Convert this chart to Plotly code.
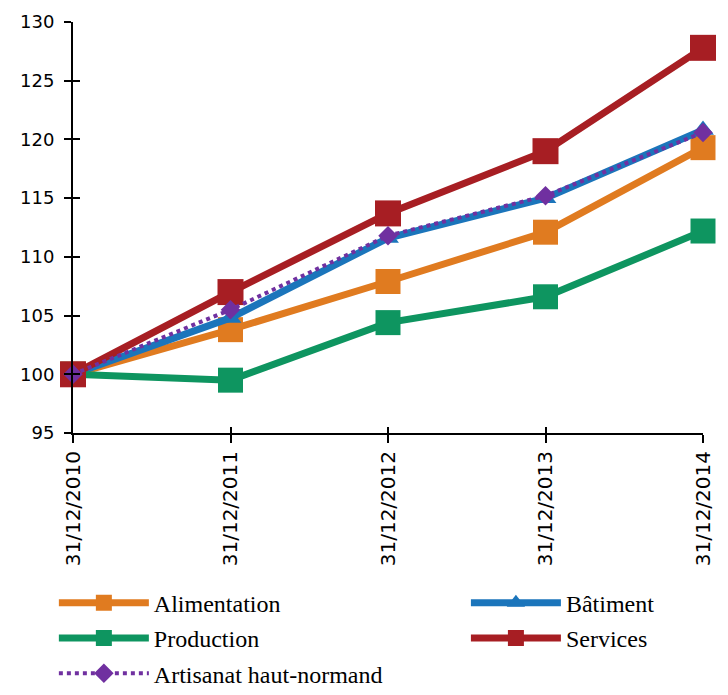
import plotly.graph_objects as go

dates = ["31/12/2010", "31/12/2011", "31/12/2012", "31/12/2013", "31/12/2014"]
alimentation = [100, 103.8, 107.9, 112.1, 119.3]
batiment = [100, 104.8, 111.6, 115.0, 120.8]
production = [100, 99.5, 104.4, 106.6, 112.2]
services = [100, 107.0, 113.7, 119.0, 127.8]
artisanat = [100, 105.5, 111.8, 115.2, 120.6]
y_ticks = [95, 100, 105, 110, 115, 120, 125, 130]

xs = list(range(len(dates)))

fig = go.Figure()

# empty helper trace so the inner-tick overlay axes get drawn (ticks cross the axis lines)
fig.add_trace(go.Scatter(x=[], y=[], xaxis="x2", yaxis="y2", showlegend=False, hoverinfo="skip"))

def add(name, vals, color, symbol, size, legend, dash="solid", width=7):
    fig.add_trace(go.Scatter(
        x=xs, y=vals, name=name, mode="lines+markers",
        line=dict(color=color, width=width, dash=dash),
        marker=dict(symbol=symbol, size=size, color=color, line=dict(width=0)),
        cliponaxis=False, legend=legend, legendgroup=name,
    ))

add("Alimentation", alimentation, "#E07B20", "square", 25, "legend")
add("Bâtiment", batiment, "#1B75BB", "triangle-up", 19, "legend2")
add("Production", production, "#0E9560", "square", 25, "legend")
add("Services", services, "#A71E23", "square", 26, "legend2")
add("Artisanat haut-normand", artisanat, "#7030A0", "diamond", 15, "legend", dash="dot", width=4)

serif = "Liberation Serif, Times New Roman, serif"
legend_common = dict(
    orientation="v", font=dict(family=serif, size=24, color="#000"),
    bgcolor="rgba(0,0,0,0)", tracegroupgap=1, itemwidth=90,
    xref="container", yref="container",
    yanchor="top", y=0.176, xanchor="left",
)

fig.update_layout(
    width=728, height=695,
    margin=dict(l=65, r=33, t=14, b=270, autoexpand=False),
    plot_bgcolor="white", paper_bgcolor="white",
    showlegend=True,
    legend=dict(x=0.063, **legend_common),
    legend2=dict(x=0.629, **legend_common),
    xaxis=dict(
        range=[0, 4], tickmode="array", tickvals=xs, ticktext=dates,
        tickangle=-90, showgrid=False, zeroline=False, automargin=False,
        showline=True, linecolor="#000", linewidth=2,
        ticks="outside", ticklen=8, tickwidth=2, tickcolor="#000",
        tickfont=dict(family="DejaVu Sans", size=20, color="#000"),
    ),
    yaxis=dict(
        range=[95, 130], tickmode="array", tickvals=y_ticks,
        showgrid=False, zeroline=False, automargin=False,
        showline=True, linecolor="#000", linewidth=2,
        ticks="outside", ticklen=7, tickwidth=2, tickcolor="#000",
        ticklabelstandoff=6,
        tickfont=dict(family="DejaVu Sans", size=18, color="#000"),
    ),
    xaxis2=dict(
        overlaying="x", anchor="y2", side="bottom", range=[0, 4],
        tickmode="array", tickvals=xs, showticklabels=False,
        showgrid=False, zeroline=False, showline=False, automargin=False,
        ticks="inside", ticklen=6, tickwidth=2, tickcolor="#000",
    ),
    yaxis2=dict(
        overlaying="y", anchor="x2", side="left", range=[95, 130],
        tickmode="array", tickvals=y_ticks, showticklabels=False,
        showgrid=False, zeroline=False, showline=False, automargin=False,
        ticks="inside", ticklen=7, tickwidth=2, tickcolor="#000",
    ),
)

fig.write_html("out.html")
